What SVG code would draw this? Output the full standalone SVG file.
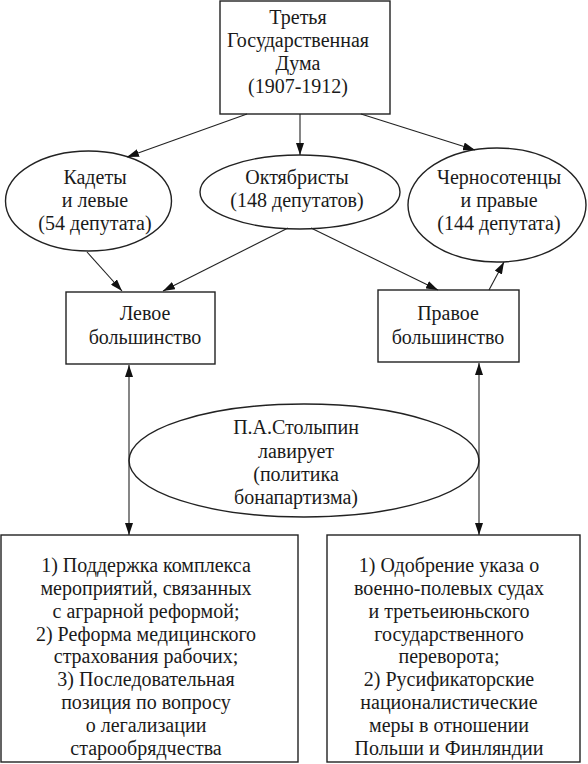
<svg xmlns="http://www.w3.org/2000/svg" width="588" height="764" viewBox="0 0 588 764">
<style>
.n{fill:#fff;stroke:#222;stroke-width:1.4}
.t{font-family:'Liberation Serif','Times New Roman','DejaVu Serif',serif;font-size:20px;fill:#1a1a1a;text-anchor:middle}
.c{fill:none;stroke:#222;stroke-width:1.1}
</style>
<defs>
<marker id="ah" viewBox="0 0 12 8" refX="12" refY="4" markerWidth="12" markerHeight="8" markerUnits="userSpaceOnUse" orient="auto-start-reverse">
<path d="M0,0 L12,4 L0,8 z" fill="#111"/>
</marker>
</defs>
<rect width="588" height="764" fill="#fff"/>
<g id="duma">
<rect class="n" x="220" y="1" width="170" height="113"/>
<text class="t" x="298" y="24">Третья</text>
<text class="t" x="298" y="47">Государственная</text>
<text class="t" x="298" y="70">Дума</text>
<text class="t" x="298" y="93">(1907-1912)</text>
</g>
<g id="kadety">
<ellipse class="n" cx="88.5" cy="201" rx="83" ry="50"/>
<text class="t" x="95" y="184">Кадеты</text>
<text class="t" x="95" y="207">и левые</text>
<text class="t" x="95" y="230">(54 депутата)</text>
</g>
<g id="oktyabristy">
<ellipse class="n" cx="300" cy="192" rx="100" ry="37"/>
<text class="t" x="297" y="184">Октябристы</text>
<text class="t" x="297" y="207">(148 депутатов)</text>
</g>
<g id="chernosotentsy">
<ellipse class="n" cx="497" cy="205" rx="89" ry="57"/>
<text class="t" x="499" y="184">Черносотенцы</text>
<text class="t" x="499" y="207">и правые</text>
<text class="t" x="499" y="230">(144 депутата)</text>
</g>
<g id="levoe">
<rect class="n" x="66" y="292" width="149" height="72"/>
<text class="t" x="145" y="320">Левое</text>
<text class="t" x="145" y="344">большинство</text>
</g>
<g id="pravoe">
<rect class="n" x="378" y="290" width="141" height="72"/>
<text class="t" x="448" y="320">Правое</text>
<text class="t" x="448" y="344">большинство</text>
</g>
<g id="stolypin">
<ellipse class="n" cx="304" cy="460.5" rx="175" ry="56.5"/>
<text class="t" x="296" y="434">П.А.Столыпин</text>
<text class="t" x="296" y="458">лавирует</text>
<text class="t" x="296" y="481">(политика</text>
<text class="t" x="296" y="504">бонапартизма)</text>
</g>
<g id="left-measures">
<rect class="n" x="1" y="535" width="297" height="227"/>
<text class="t" x="146" y="572">1) Поддержка комплекса</text>
<text class="t" x="146" y="595">мероприятий, связанных</text>
<text class="t" x="146" y="618">с аграрной реформой;</text>
<text class="t" x="146" y="641">2) Реформа медицинского</text>
<text class="t" x="146" y="663">страхования рабочих;</text>
<text class="t" x="146" y="686">3) Последовательная</text>
<text class="t" x="146" y="709">позиция по вопросу</text>
<text class="t" x="146" y="732">о легализации</text>
<text class="t" x="146" y="755">старообрядчества</text>
</g>
<g id="right-measures">
<rect class="n" x="327" y="535" width="253" height="227"/>
<text class="t" x="449" y="572">1) Одобрение указа о</text>
<text class="t" x="449" y="595">военно-полевых судах</text>
<text class="t" x="449" y="618">и третьеиюньского</text>
<text class="t" x="449" y="641">государственного</text>
<text class="t" x="449" y="663">переворота;</text>
<text class="t" x="449" y="686">2) Русификаторские</text>
<text class="t" x="449" y="709">националистические</text>
<text class="t" x="449" y="732">меры в отношении</text>
<text class="t" x="449" y="755">Польши и Финляндии</text>
</g>
<g id="connectors">
<path class="c" d="M247,114 L127,157" marker-end="url(#ah)"/>
<path class="c" d="M300,114 L300,155" marker-end="url(#ah)"/>
<path class="c" d="M361,114 L475,150" marker-end="url(#ah)"/>
<path class="c" d="M87,252 L122,291" marker-end="url(#ah)"/>
<path class="c" d="M288,228 L163,291" marker-end="url(#ah)"/>
<path class="c" d="M311,228 L438,290" marker-end="url(#ah)"/>
<path class="c" d="M489,290 L504,262" marker-end="url(#ah)"/>
<path class="c" d="M129,365 L129,535" marker-start="url(#ah)" marker-end="url(#ah)"/>
<path class="c" d="M479,363 L479,535" marker-start="url(#ah)" marker-end="url(#ah)"/>
</g>
</svg>
